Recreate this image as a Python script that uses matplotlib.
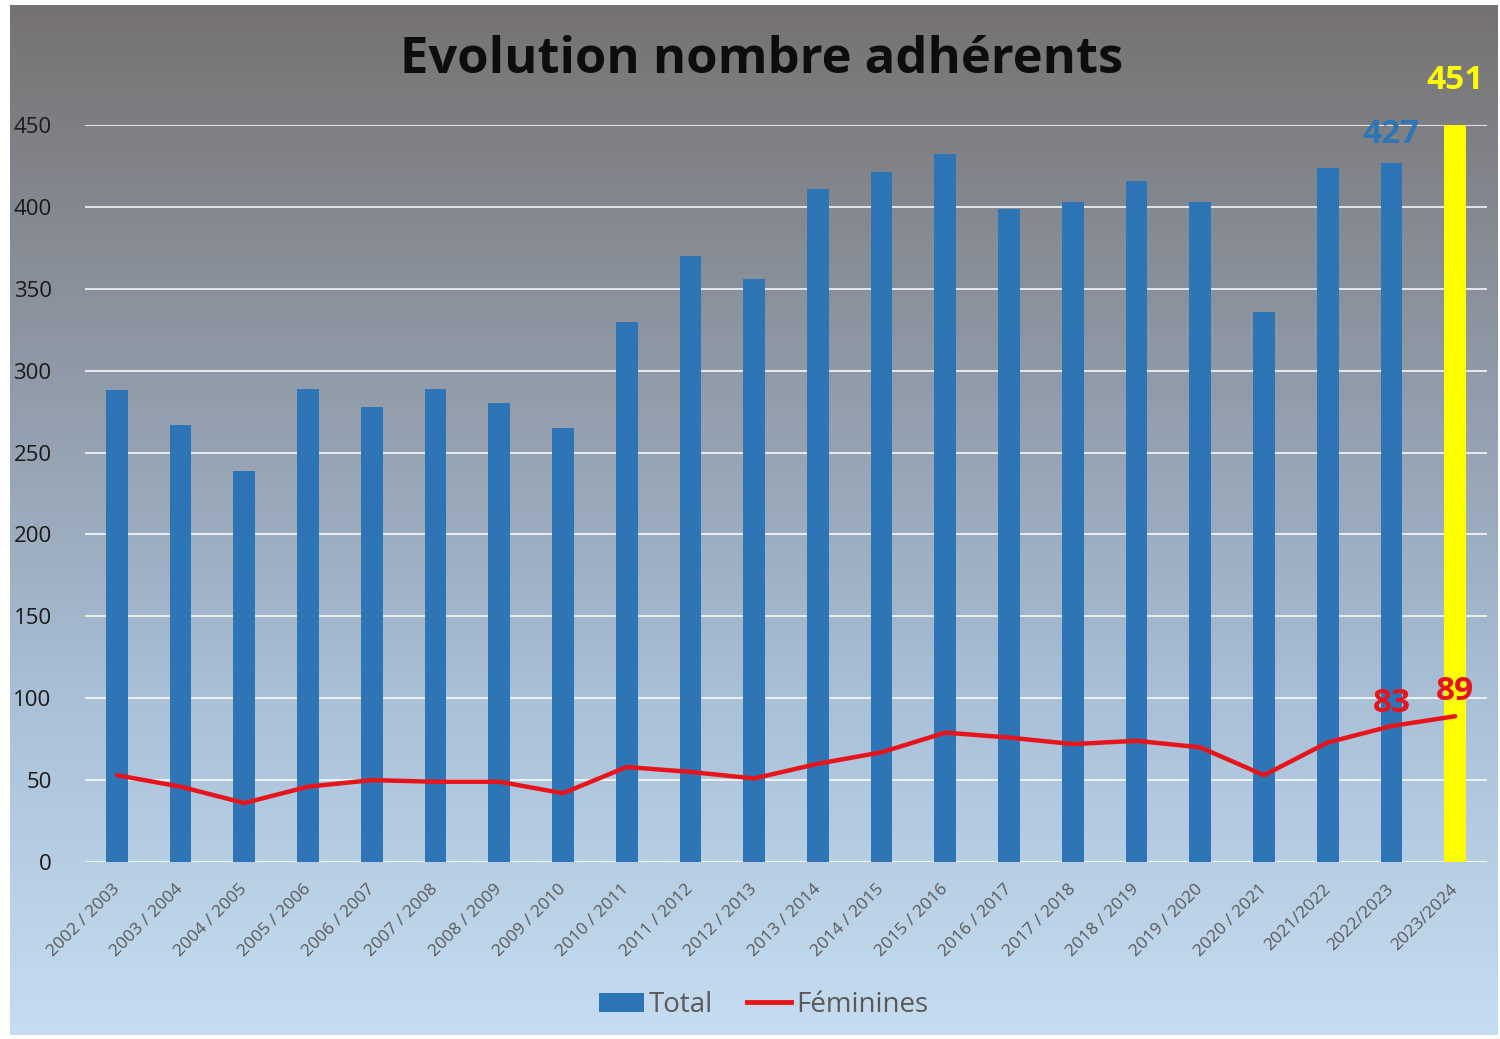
import matplotlib
matplotlib.use("Agg")
import matplotlib.pyplot as plt
import numpy as np
from matplotlib.patches import Patch
from matplotlib.lines import Line2D
from matplotlib.colors import LinearSegmentedColormap

seasons = ["2002 / 2003", "2003 / 2004", "2004 / 2005", "2005 / 2006", "2006 / 2007",
           "2007 / 2008", "2008 / 2009", "2009 / 2010", "2010 / 2011", "2011 / 2012",
           "2012 / 2013", "2013 / 2014", "2014 / 2015", "2015 / 2016", "2016 / 2017",
           "2017 / 2018", "2018 / 2019", "2019 / 2020", "2020 / 2021", "2021/2022",
           "2022/2023", "2023/2024"]
total = [288, 267, 239, 289, 278, 289, 280, 265, 330, 370, 356, 411, 421, 432, 399,
         403, 416, 403, 336, 424, 427, 451]
feminines = [53, 46, 36, 46, 50, 49, 49, 42, 58, 55, 51, 60, 67, 79, 76, 72, 74, 70,
             53, 73, 83, 89]
yticks = [0, 50, 100, 150, 200, 250, 300, 350, 400, 450]

W, H = 1500, 1039
fig = plt.figure(figsize=(W / 100, H / 100), dpi=100)
fig.patch.set_facecolor("white")

# gradient background
bg = fig.add_axes([10 / W, 4 / H, 1488 / W, 1030 / H])
cmap = LinearSegmentedColormap.from_list("bg", ["#767272", "#8e97a4", "#a9bfd6", "#c6dcf0"])
grad = np.linspace(0, 1, 256).reshape(-1, 1)
bg.imshow(grad, aspect="auto", cmap=cmap, extent=[0, 1, 0, 1], origin="upper")
bg.set_axis_off()

ax = fig.add_axes([85 / W, 1 - 862 / H, 1402 / W, 737 / H])
ax.patch.set_alpha(0)
x = np.arange(len(seasons))
colors = ["#2e75b6"] * (len(seasons) - 1) + ["#ffff00"]
ax.bar(x, total, width=0.34, color=colors, zorder=3)
ax.plot(x, feminines, color="#e8141c", lw=3.2, zorder=4, solid_capstyle="round")

ax.set_xlim(-0.5, len(seasons) - 0.5)
ax.set_ylim(0, 450)
ax.set_yticks(yticks)
ax.yaxis.grid(True, color="white", lw=1.3, alpha=0.85, zorder=1)
ax.set_axisbelow(True)
for s in ax.spines.values():
    s.set_visible(False)
ax.tick_params(axis="y", length=0, pad=24, labelsize=16, labelcolor="#1a1a1a")
ax.tick_params(axis="x", length=0, pad=14)
ax.set_xticks(x)
ax.set_xticklabels(seasons, rotation=45, ha="right", fontsize=12.5, color="#595959")
for lbl in ax.get_yticklabels():
    lbl.set_fontfamily("Open Sans")
for lbl in ax.get_xticklabels():
    lbl.set_fontfamily("Open Sans")
    lbl.set_x(lbl.get_position()[0])
# shift x labels slightly right
import matplotlib.transforms as mtransforms
offset = mtransforms.ScaledTranslation(6 / 100, 0, fig.dpi_scale_trans)
for lbl in ax.get_xticklabels():
    lbl.set_transform(lbl.get_transform() + offset)

# value labels
ax.text(x[-2], total[-2] + 7, str(total[-2]), color="#2e75b6", fontsize=24,
        fontweight="bold", ha="center", va="bottom", family="Open Sans", zorder=5)
ax.text(x[-1], total[-1] + 16, str(total[-1]), color="#ffff00", fontsize=24,
        fontweight="bold", ha="center", va="bottom", family="Open Sans", zorder=5)
ax.text(x[-2], feminines[-2] + 4, str(feminines[-2]), color="#e8141c", fontsize=24,
        fontweight="bold", ha="center", va="bottom", family="Open Sans", zorder=5)
ax.text(x[-1], feminines[-1] + 5, str(feminines[-1]), color="#e8141c", fontsize=24,
        fontweight="bold", ha="center", va="bottom", family="Open Sans", zorder=5)

fig.text(762 / W, 1 - 60 / H, "Evolution nombre adhérents", ha="center", va="center",
         fontsize=36.5, fontweight="bold", color="#0d0d0d", family="Open Sans")

handles = [Patch(facecolor="#2e75b6", edgecolor="none"),
           Line2D([0], [0], color="#e8141c", lw=3.5)]
leg = fig.legend(handles, ["Total", "Féminines"], loc="center", bbox_to_anchor=(764 / W, 1 - 1005 / H),
                 ncol=2, frameon=False, labelcolor="#595959",
                 handlelength=1.6, handletextpad=0.2, columnspacing=1.2,
                 prop={"family": "Open Sans", "size": 20})

fig.savefig("out.png", dpi=100)
